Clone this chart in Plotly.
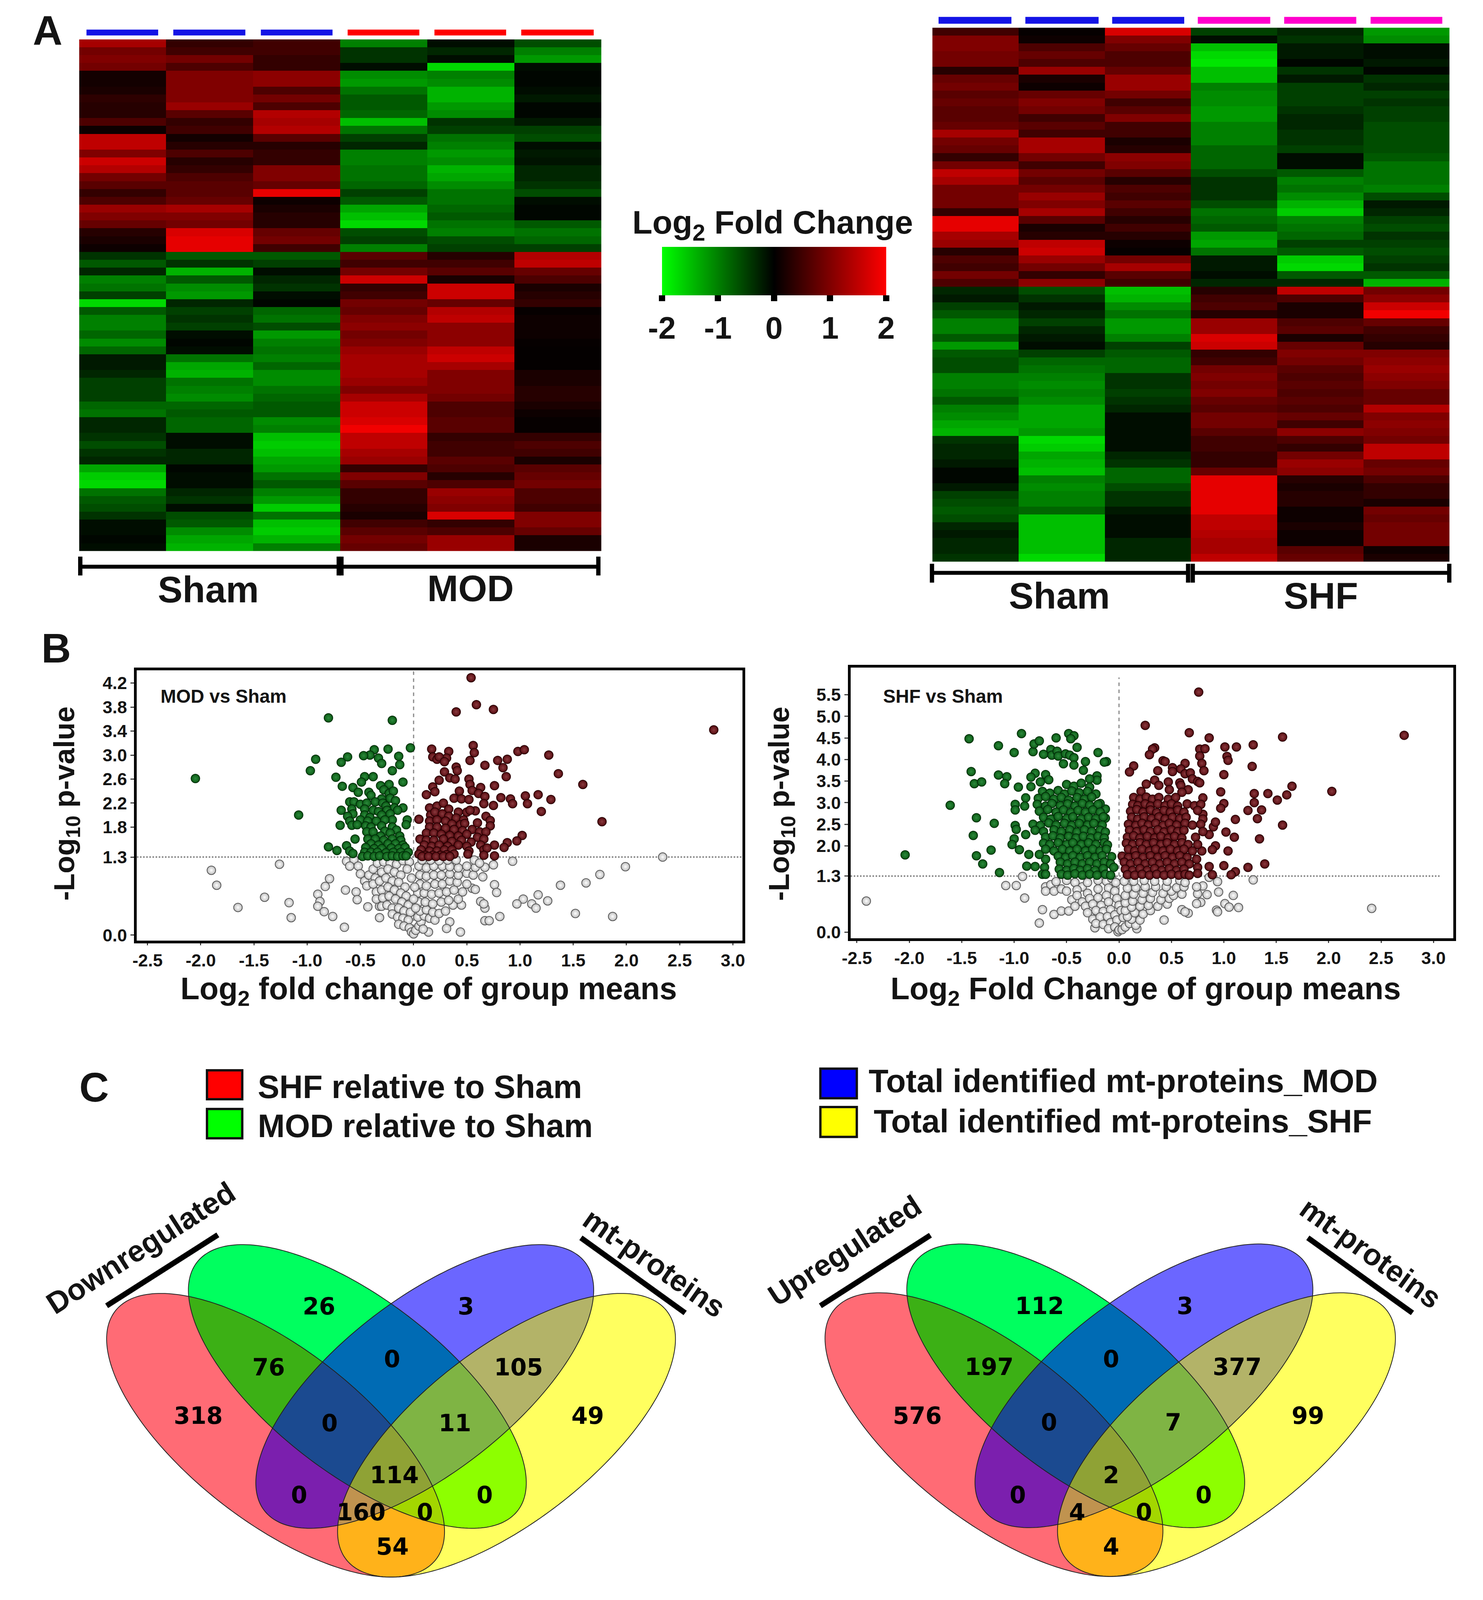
import numpy as np
import plotly.graph_objects as go

W, H = 3797, 4904          # geometry of the reference picture
VIEW_H = 4096              # the browser window is only this tall, so the page is fitted to it
VS = VIEW_H / H
FONT = "Liberation Sans"
INK = "#141414"

# ---------- Heatmap data (log2 fold change, rows top to bottom) ----------
mod_sham1 = [1.3,.9,1.0,.9,.15,.15,.2,.35,.3,.3,.6,.1,1.5,1.5,1.0,1.6,1.4,.9,.7,.4,.6,1.2,1.0,.8,.3,.2,.1,-.4,-.7,-.3,-1.0,-.9,-.5,-1.7,-.7,-1.0,-1.0,-.8,-1.1,-.8,-.2,-.2,-.3,-.5,-.5,-.5,-.8,-.9,-.3,-.3,-.4,-.6,-.4,-.3,-1.3,-1.6,-1.7,-.9,-.7,-.6,-.4,-.1,-.1,-.05,-.1]
mod_sham2 = [.4,.5,.9,.6,1.0,1.0,1.0,1.0,1.2,.7,.4,.5,.15,.3,.6,.3,.4,.6,.7,.7,.8,1.3,1.0,.9,1.7,1.8,1.8,-.7,-.4,-1.4,-.7,-1.1,-1.2,-.3,-.5,-.4,-.5,-.1,-.05,-.1,-.9,-1.3,-1.4,-.9,-1.0,-1.1,-.8,-.7,-.8,-.8,-.1,-.1,-.3,-.3,-.05,-.1,-.1,-.3,-.4,-.1,-.6,-.7,-1.1,-1.3,-1.4]
mod_sham3 = [.5,.5,.4,.4,1.1,1.1,.6,.9,.6,1.4,1.3,1.4,.7,.3,.4,.4,1.0,1.0,.8,1.8,.1,.2,.3,.3,.8,.9,.5,-.7,-.5,-.1,-.3,-.4,-.1,-.05,-.8,-.9,-.6,-1.2,-1.0,-.9,-1.0,-.8,-1.1,-1.1,-.9,-.8,-.7,-.7,-1.1,-1.0,-1.5,-1.6,-1.5,-1.3,-1.2,-.9,-.7,-1.0,-1.2,-1.6,-.9,-1.5,-1.6,-1.4,-1.0]
mod_mod1 = [-1.0,-.4,-.4,-.1,-1.1,-1.2,-.9,-.7,-.7,-.8,-1.5,-.9,-.5,-.3,-1.0,-1.0,-.9,-.9,-.8,-.5,-.7,-1.3,-1.5,-1.7,-.6,-.5,-1.0,.7,.5,.9,1.6,.4,.5,.9,.8,1.0,1.1,.9,1.0,1.2,1.3,1.3,1.3,1.2,1.0,1.3,1.6,1.6,1.7,1.9,1.5,1.5,1.3,1.2,.4,1.0,.7,.4,.4,.3,.2,.5,.7,.9,.8]
mod_mod2 = [-.1,-.3,-.1,-1.7,-1.0,-1.1,-1.4,-1.4,-1.2,-1.1,-.4,-.5,-.9,-1.0,-1.2,-1.1,-1.4,-1.3,-1.1,-.9,-.9,-.8,-.7,-.9,-1.0,-.6,-.5,.3,.5,.7,.2,1.6,1.6,.8,1.4,1.5,1.1,1.1,1.1,1.5,1.6,1.3,1.0,1.0,1.0,.9,.6,.6,.7,.7,.4,.5,.5,.7,.6,.3,.6,1.2,1.1,1.0,1.7,.4,.6,1.2,1.2]
mod_mod3 = [-.6,-1.0,-1.2,-.1,-.05,-.05,-.1,-.2,-.05,-.05,-.2,-.5,-.6,-.1,-.2,-.15,-.3,-.3,-.4,-.6,-.1,-.05,-.05,-.7,-.9,-.8,-.5,1.4,1.5,.8,.6,.2,.3,.4,.05,.1,.1,.1,.05,.03,.03,.03,.2,.2,.3,.3,.2,.1,.05,.05,.4,.6,.5,.2,.7,.8,.9,.6,.6,.5,1.0,1.0,.8,.2,.2]

shf_sham1 = [.5,1.0,1.0,.9,.9,.3,.8,.9,.7,.8,.7,.7,.8,1.3,.9,.8,.4,.9,1.5,1.3,.9,.9,.9,.4,1.8,1.8,1.3,1.2,.3,.6,.5,.9,.6,-.3,-.2,-.5,-.7,-1.0,-1.0,-.7,-1.2,-.7,-.6,-.6,-1.0,-1.0,-.9,-.7,-1.0,-1.1,-1.3,-1.4,-.4,-.3,-.3,-.2,-.05,-.05,-.2,-.5,-.6,-.7,-.6,-.3,-.2,-.3,-.3,-.4]
shf_sham2 = [.05,.1,.6,.8,.6,1.2,.2,.1,.8,1.0,.9,.5,.7,.5,1.3,1.3,.9,.5,.9,.7,.9,1.2,1.0,1.3,.7,.2,.3,1.5,1.6,1.2,.9,.4,1.1,-.6,-.4,-.2,-.3,-.5,-.3,-.2,-.1,-.5,-.8,-.9,-1.0,-1.1,-1.0,-1.1,-1.3,-1.3,-1.3,-1.2,-1.7,-1.6,-1.3,-1.4,-1.5,-1.0,-1.1,-1.0,-1.0,-.8,-1.5,-1.5,-1.5,-1.5,-1.5,-1.7]
shf_sham3 = [1.7,1.0,.8,.6,.6,.8,1.2,1.2,.9,.5,.7,1.0,.5,.5,.2,.3,1.1,1.0,.7,.3,.6,.5,.7,.5,.3,.5,.3,.1,.05,.9,1.3,.7,.5,-1.5,-1.4,-1.1,-.9,-1.2,-1.2,-1.0,-.5,-.7,-.8,-.8,-.4,-.4,-.5,-.4,-.3,-.1,-.1,-.1,-.1,-.1,-.3,-.4,-.8,-.8,-.6,-.4,-.4,-.2,-.1,-.1,-.1,-.3,-.3,-.3]
shf_shf1 = [-.5,-.1,-1.5,-1.7,-1.8,-1.5,-1.5,-1.0,-1.1,-1.1,-1.2,-1.2,-1.0,-1.0,-1.0,-.8,-.8,-.8,-.6,-.4,-.4,-.4,-.6,-.9,-.8,-.7,-1.2,-1.3,-.9,-.2,-.2,-.1,-.3,.3,.5,.6,.3,1.2,1.2,1.7,1.6,.4,.5,.9,1.0,.9,1.0,.8,.7,.9,.9,.7,.5,.5,.4,.4,.8,1.8,1.8,1.8,1.8,1.8,1.5,1.5,1.4,1.3,1.3,1.5]
shf_shf2 = [-.3,-.4,-.2,-.2,-.05,-.4,-.2,-.5,-.5,-.5,-.4,-.3,-.3,-.4,-.4,-.5,-.1,-.1,-.7,-1.0,-.9,-1.1,-1.4,-1.6,-1.0,-.9,-.8,-.5,-.7,-1.6,-1.7,-.7,-.3,1.5,.6,.2,.2,.6,.7,.2,.8,1.0,.9,.7,.6,.7,.6,.7,.6,.8,.5,1.1,.6,.4,.9,1.2,1.1,.3,.2,.3,.3,.1,.1,.2,.1,.1,.7,.8]
shf_shf3 = [-1.2,-1.1,-.1,-.1,-.2,-.05,-.4,-.3,-.5,-.4,-.5,-.5,-.6,-.6,-.6,-.6,-.7,-.9,-.9,-.9,-1.0,-.6,-.2,-.3,-.5,-.6,-.4,-.5,-.6,-.5,-.4,-.7,-1.4,.9,1.1,1.6,1.9,.8,.5,.4,.3,1.0,1.1,1.2,1.1,1.0,.8,.8,1.4,1.0,1.1,1.0,.9,1.5,1.5,.8,.9,.6,.4,.4,.2,.9,.8,.9,.9,.9,.1,.2]

colorbar_ticks = [-2, -1, 0, 1, 2]

# ---------- Volcano data: (log2 fold change, -log10 p) ----------
mod_down = [(-2.05,2.61),(-1.08,2.0),(-.80,3.62),(-.20,3.58),(-.03,3.12),(-.24,3.1),(-.37,3.09),(-.41,3.0),(-.47,2.99),(-.33,2.95),(-.62,2.97),(-.14,2.98),(-.92,2.93),(-.68,2.88),(-.30,2.86),(-.13,2.84),(-.97,2.74),(-.20,2.74),(-.73,2.63),(-.46,2.64),(-.38,2.64),(-.49,2.55),(-.10,2.55),(-.67,2.48),(-.57,2.46),(-.31,2.49),(-.23,2.51),
(-.52,2.38),(-.42,2.38),(-.40,2.33),(-.28,2.42),(-.23,2.36),(-.19,2.4),(-.22,2.28),(-.30,2.27),(-.17,2.24),(-.60,2.22),(-.56,2.22),(-.50,2.18),(-.44,2.2),(-.36,2.22),(-.29,2.2),(-.26,2.15),(-.18,2.12),(-.10,2.12),(-.58,2.1),(-.68,2.08),(-.46,2.1),(-.38,2.08),(-.33,2.06),(-.25,2.08),(-.15,2.08),(-.57,2.02),(-.62,1.98),(-.46,2.0),(-.41,1.96),(-.30,2.0),(-.22,2.02),(-.20,1.92),(-.27,1.92),(-.6,1.9),(-.5,1.92),(-.43,1.9),(-.35,1.9),(-.06,1.92),(-.07,1.84),(-.58,1.83),(-.53,1.84),(-.69,1.83),(-.45,1.82),(-.40,1.8),(-.3,1.82),(-.2,1.8),(-.16,1.75),(-.44,1.72),(-.38,1.72),(-.27,1.73),(-.22,1.7),(-.31,1.65),(-.13,1.65),(-.55,1.6),(-.43,1.6),(-.36,1.6),(-.28,1.58),(-.2,1.6),(-.12,1.58),(-.40,1.52),(-.33,1.5),(-.24,1.52),(-.17,1.52),(-.1,1.5),(-.8,1.47),(-.63,1.49),(-.72,1.41),(-.6,1.4),(-.57,1.36),(-.45,1.46),(-.37,1.44),(-.3,1.44),(-.21,1.45),(-.14,1.44),(-.08,1.46),(-.46,1.38),(-.4,1.38),(-.34,1.38),(-.26,1.37),(-.19,1.38),(-.12,1.38),(-.05,1.38),(-.48,1.31),(-.43,1.32),(-.37,1.31),(-.32,1.32),(-.25,1.31),(-.2,1.32),(-.15,1.31),(-.1,1.32),(-.07,1.32)]
mod_up = [(.54,4.29),(.59,3.84),(.40,3.72),(.75,3.76),(2.82,3.42),(.56,3.16),(.17,3.1),(.57,3.04),(.33,3.06),(.98,3.06),(1.04,3.09),(1.27,3.0),(.18,2.97),(.22,2.93),(.31,2.95),(.24,2.97),(.29,2.89),(.53,2.91),(.67,2.83),(.79,2.91),(.88,2.93),(.84,2.79),(1.36,2.69),(.87,2.64),(.40,2.8),(.41,2.74),(.29,2.72),(.34,2.62),(.24,2.58),(.39,2.6),(.52,2.6),(.53,2.51),(1.59,2.51),(.76,2.49),(.63,2.46),(.18,2.47),(.55,2.41),(.43,2.4),(.2,2.39),(.12,2.34),(.61,2.36),(.67,2.31),(1.05,2.32),(1.17,2.34),(.82,2.29),(.91,2.27),(1.29,2.26),(.38,2.28),(.45,2.27),(.52,2.26),(.93,2.19),(1.07,2.19),(.75,2.16),(1.2,2.06),(1.77,1.89),(.05,1.93),(.66,2.19),
(.15,2.12),(.22,2.15),(.28,2.2),(.33,2.1),(.42,2.05),(.5,2.05),(.58,2.07),(.53,2.08),(.68,1.98),(.72,1.91),(.16,2.0),(.2,2.05),(.27,2.02),(.33,1.98),(.40,1.95),(.47,1.92),(.15,1.9),(.22,1.92),(.3,1.9),(.36,1.85),(.44,1.84),(.48,1.86),(.6,1.87),(.72,1.82),(.15,1.8),(.22,1.8),(.3,1.78),(.38,1.76),(.46,1.74),(.55,1.76),(.62,1.72),(.68,1.72),(.12,1.7),(.19,1.7),(.26,1.68),(.34,1.66),(.42,1.65),(.5,1.68),(.6,1.63),(.66,1.6),(1.02,1.66),(.06,1.6),(.12,1.58),(.19,1.58),(.28,1.6),(.36,1.56),(.45,1.58),(.54,1.55),(.63,1.5),(.97,1.57),(.88,1.54),(.10,1.5),(.17,1.48),(.24,1.5),(.32,1.48),(.42,1.5),(.5,1.48),(.76,1.5),(.85,1.46),(.07,1.42),(.15,1.4),(.22,1.4),(.29,1.42),(.36,1.42),(.52,1.4),(.66,1.42),(.69,1.45),(.05,1.35),(.11,1.33),(.18,1.33),(.25,1.33),(.31,1.34),(.38,1.35),(.51,1.35),(.66,1.33),(.76,1.32),(.08,1.31),(.14,1.31),(.21,1.31),(.28,1.31),(.34,1.31)]
mod_ns = [(2.34,1.30),(1.99,1.14),(1.75,1.01),(1.62,.87),(1.38,.83),(1.52,.36),(1.87,.31),(1.17,.67),(1.26,.57),(1.03,.6),(.97,.52),(1.11,.52),(1.15,.45),(.81,.31),(.67,.24),(.71,.24),(.93,1.23),(.75,1.17),(.67,1.13),(.76,.84),(.78,.71),(.63,.56),(.67,.45),(.66,.52),(.34,.22),(.31,.11),(.44,.05),(.14,.05),
(-1.26,1.18),(-1.9,1.08),(-1.85,.83),(-1.4,.63),(-1.65,.46),(-1.17,.54),(-1.15,.29),(-.9,.68),(-.88,.56),(-.9,.48),(-.84,.39),(-.76,.31),(-.65,.13),(-.83,.81),(-.79,.94),(-.64,.75),(-.54,.72),(-.53,.59),(-.43,.47),(-.32,.48),(-.32,.29),(-.63,1.23),(-.56,1.26),(-.6,1.15),(-.52,1.15),(-.5,1.02),
(-.46,.9),(-.42,1.0),(-.38,1.1),(-.34,1.2),(-.28,1.22),(-.22,1.2),(-.16,1.18),(-.36,.95),(-.3,1.05),(-.24,1.1),(-.18,1.05),(-.12,1.0),(-.44,.82),(-.38,.85),(-.32,.9),(-.26,.95),(-.2,.9),(-.14,.88),(-.08,.8),(-.35,.72),(-.3,.75),(-.24,.8),(-.18,.75),(-.12,.7),(-.07,.65),(-.35,.6),(-.29,.62),(-.23,.65),(-.17,.6),(-.11,.55),(-.05,.5),(-.3,.48),(-.25,.5),(-.2,.45),(-.14,.45),(-.09,.4),(-.03,.38),(-.2,.35),(-.15,.3),(-.1,.28),(-.05,.25),(-.14,.18),(-.09,.15),(-.04,.12),(-.02,.05),(0,.02),(.02,.08),(.05,.15),(.07,.22),(.09,.1),(.04,.3),(.1,.32),(.15,.28),(.2,.25),(.06,.4),(.12,.42),(.18,.38),(.24,.36),(.3,.4),(.37,.5),(.45,.5),(.05,.55),(.11,.55),(.18,.52),(.26,.55),(.33,.58),(.42,.6),(.04,.7),(.1,.7),(.17,.68),(.24,.7),(.31,.72),(.38,.75),(.46,.72),(.55,.78),(.58,.76),(.06,.85),(.12,.82),(.2,.85),(.27,.85),(.34,.9),(.41,.88),(.5,.85),(.06,1.0),(.12,.98),(.19,1.0),(.26,1.0),(.34,1.02),(.42,1.0),(.5,1.03),(.56,1.0),(.65,.97),(.05,1.15),(.12,1.12),(.19,1.15),(.27,1.15),(.34,1.14),(.42,1.12),(.5,1.15),(.58,1.13),(.08,1.25),(.16,1.25),(.24,1.24),(.32,1.25),(.4,1.25),(.57,1.25),(.62,1.2),(-.1,1.24),(-.04,1.22),(-.06,1.1),(-.02,.95),(.01,.8),(.0,.6),(.02,.45)]

shf_down = [(-2.04,1.79),(-1.61,2.94),(-1.43,4.48),(-1.15,4.32),(-1.41,3.72),(-1.38,3.44),(-1.31,3.48),(-1.15,3.64),(-1.07,3.6),(-1.09,3.44),(-1.0,4.16),(-.93,4.6),(-.82,4.18),(-.81,4.36),(-.76,4.43),(-.6,4.5),(-.48,4.6),(-.43,4.55),(-.46,4.48),(-.4,4.28),(-.72,4.12),(-.65,4.23),(-.64,4.1),(-.59,4.19),(-.58,4.08),(-.2,4.16),(-.12,3.95),(-.14,3.94),(-.32,3.95),(-.51,4.13),(-.47,4.1),(-.43,4.04),(-.53,3.9),(-.43,3.87),(-.34,3.75),(-.8,3.68),(-.84,3.59),(-.7,3.65),(-.67,3.53),(-.96,3.36),(-.75,3.48),(-.84,3.37),(-.21,3.62),(-.21,3.52),(-.28,3.55),(-1.36,2.65),(-1.19,2.52),(-1.39,2.24),(-1.36,1.77),(-1.22,1.9),(-1.3,1.58),(-1.14,1.38),(-.89,3.11),(-.99,2.96),(-.99,2.83),(-.9,2.92),(-.99,2.47),(-.98,2.38),(-.89,2.26),(-1.0,2.16),(-1.02,2.03),(-.95,1.91),(-.86,1.8),(-.88,1.53),(-.8,1.52),(-.71,1.5),(-.73,1.34),(-.7,1.34),(-.7,1.69),(-.76,1.8),(-.13,2.85),(-.18,2.98),(-.13,2.64),
(-.5,3.42),(-.43,3.38),(-.36,3.45),(-.28,3.36),(-.73,3.26),(-.66,3.22),(-.58,3.28),(-.52,3.2),(-.45,3.27),(-.38,3.23),(-.3,3.26),(-.22,3.2),(-.77,3.1),(-.7,3.14),(-.62,3.08),(-.55,3.12),(-.48,3.06),(-.4,3.12),(-.33,3.08),(-.26,3.13),(-.78,2.96),(-.7,2.92),(-.64,2.98),(-.56,2.93),(-.49,2.97),(-.42,2.92),(-.35,2.98),(-.28,2.94),(-.2,2.96),(-.76,2.8),(-.68,2.84),(-.6,2.78),(-.53,2.83),(-.46,2.77),(-.39,2.82),(-.32,2.78),(-.25,2.83),(-.18,2.78),(-.72,2.66),(-.65,2.62),(-.58,2.68),(-.5,2.63),(-.44,2.67),(-.36,2.62),(-.29,2.66),(-.22,2.63),(-.15,2.67),(-.82,2.5),(-.75,2.47),(-.67,2.53),(-.6,2.48),(-.52,2.52),(-.45,2.47),(-.38,2.52),(-.3,2.48),(-.24,2.52),(-.16,2.48),(-.8,2.36),(-.72,2.33),(-.62,2.37),(-.55,2.33),(-.47,2.37),(-.4,2.32),(-.33,2.37),(-.26,2.33),(-.18,2.36),(-.13,2.32),(-.7,2.2),(-.63,2.23),(-.56,2.18),(-.48,2.22),(-.41,2.18),(-.34,2.22),(-.27,2.18),(-.2,2.22),(-.14,2.18),(-.72,2.06),(-.66,2.03),(-.58,2.07),(-.5,2.03),(-.44,2.07),(-.36,2.03),(-.29,2.07),(-.22,2.03),(-.14,2.07),(-.11,2.02),(-.7,1.92),(-.62,1.88),(-.54,1.92),(-.47,1.88),(-.4,1.92),(-.32,1.88),(-.25,1.92),(-.18,1.88),(-.12,1.92),(-.58,1.76),(-.51,1.73),(-.44,1.77),(-.37,1.73),(-.3,1.77),(-.23,1.73),(-.16,1.77),(-.07,1.75),(-.56,1.62),(-.49,1.58),(-.42,1.62),(-.35,1.58),(-.28,1.62),(-.21,1.58),(-.14,1.62),(-.08,1.58),(-.57,1.46),(-.5,1.43),(-.43,1.47),(-.37,1.43),(-.3,1.47),(-.23,1.43),(-.15,1.47),(-.05,1.5),(-.55,1.34),(-.49,1.32),(-.42,1.35),(-.35,1.32),(-.28,1.34),(-.21,1.32),(-.13,1.34),(-.08,1.32)]
shf_up = [(.76,5.56),(.25,4.79),(.67,4.62),(.86,4.5),(1.56,4.52),(2.72,4.56),(1.28,4.34),(1.01,4.29),(1.12,4.29),(.34,4.27),(.32,4.24),(.77,4.24),(.82,4.25),(.29,4.11),(.77,4.08),(1.03,4.07),(1.04,3.98),(.42,3.97),(.44,3.95),(.63,3.91),(.79,3.91),(1.27,3.84),(.14,3.85),(.1,3.71),(.37,3.74),(.51,3.81),(.51,3.72),(.59,3.78),(.63,3.67),(.68,3.69),(.81,3.74),(1.0,3.65),(.7,3.55),(.75,3.49),(.77,3.46),(.26,3.43),(.34,3.52),(.38,3.4),(.47,3.48),(.58,3.46),(.59,3.4),(.66,3.3),(.6,3.24),(1.65,3.38),(2.03,3.26),(.97,3.25),(1.29,3.21),(1.42,3.21),(1.6,3.18),(1.51,3.06),(.21,3.26),(.48,3.3),(.8,3.11),(1.29,3.0),(1.0,2.98),(.97,2.87),(1.23,2.82),(1.36,2.83),(1.32,2.63),(1.11,2.61),(1.56,2.48),(1.02,2.32),(1.1,2.2),(1.34,2.16),(1.04,1.88),(1.39,1.58),(1.0,1.54),(.86,1.52),(1.23,1.5),(1.11,1.4),(1.07,1.33),(.75,1.5),(.75,1.36),(.89,1.33),(.92,2.0),(.89,1.91),(.79,1.88),(.74,1.69),(.86,2.26),(.9,2.44),(.92,2.55),(.8,2.73),(.73,2.2),(.75,2.03),
(.14,3.12),(.2,3.08),(.26,3.13),(.32,3.08),(.38,3.12),(.47,3.08),(.54,3.12),(.13,2.96),(.18,2.93),(.25,2.97),(.3,2.92),(.37,2.97),(.44,2.93),(.5,2.97),(.56,2.92),(.65,2.97),(.72,2.93),(.78,2.96),(.11,2.8),(.17,2.84),(.23,2.78),(.3,2.83),(.36,2.77),(.43,2.82),(.49,2.78),(.56,2.83),(.62,2.78),(.75,2.82),(.12,2.66),(.18,2.62),(.24,2.67),(.31,2.63),(.38,2.67),(.44,2.62),(.51,2.66),(.58,2.63),(.64,2.66),(.8,2.62),(.09,2.5),(.16,2.47),(.22,2.52),(.28,2.48),(.35,2.52),(.42,2.47),(.48,2.52),(.55,2.48),(.63,2.52),(.7,2.48),(.78,2.5),(.1,2.36),(.17,2.33),(.24,2.37),(.3,2.33),(.37,2.37),(.43,2.32),(.5,2.37),(.56,2.33),(.62,2.36),(.8,2.33),(.08,2.2),(.14,2.23),(.2,2.18),(.27,2.22),(.34,2.18),(.4,2.22),(.47,2.18),(.53,2.22),(.6,2.18),(.07,2.06),(.13,2.03),(.2,2.07),(.26,2.03),(.33,2.07),(.4,2.03),(.46,2.07),(.53,2.03),(.6,2.07),(.66,2.03),(.09,1.92),(.15,1.88),(.22,1.92),(.29,1.88),(.35,1.92),(.42,1.88),(.49,1.92),(.56,1.88),(.62,1.92),(.7,1.88),(.03,1.76),(.09,1.73),(.16,1.77),(.23,1.73),(.3,1.77),(.37,1.73),(.44,1.77),(.51,1.73),(.58,1.77),(.65,1.73),(.05,1.62),(.11,1.58),(.18,1.62),(.25,1.58),(.32,1.62),(.39,1.58),(.46,1.62),(.53,1.58),(.6,1.62),(.67,1.58),(.06,1.46),(.13,1.43),(.2,1.47),(.27,1.43),(.34,1.47),(.41,1.43),(.48,1.47),(.55,1.43),(.62,1.46),(.08,1.33),(.15,1.32),(.22,1.34),(.29,1.32),(.36,1.34),(.43,1.32),(.5,1.34),(.57,1.32),(.63,1.34),(.67,1.32)]
shf_ns = [(-2.41,.72),(2.41,.55),(1.28,1.21),(-1.08,1.08),(-.98,1.08),(-.92,1.29),(-.9,.79),(-.73,.52),(-.62,.41),(-.55,.49),(-.48,.49),(-.76,.21),(.43,.28),(.94,1.17),(.86,1.27),(.95,.93),(1.09,.85),(1.01,.66),(1.05,.58),(1.14,.57),(.93,.51),(.94,.47),(.78,.69),(.74,.66),(.6,.52),(.66,.44),(.63,.47),(.75,.89),(.84,.87),(.8,1.07),(.74,1.05),
(-.7,1.05),(-.65,1.1),(-.62,.95),(-.55,1.0),(-.7,.95),(-.6,1.17),(-.5,1.2),(-.42,1.15),(-.35,1.05),(-.3,1.15),(-.2,1.2),(-.12,1.18),(-.07,1.25),(-.5,.95),(-.4,.98),(-.3,.9),(-.2,1.0),(-.1,1.02),(-.03,1.15),(-.45,.75),(-.4,.85),(-.35,.7),(-.28,.78),(-.2,.8),(-.12,.85),(-.04,.95),(-.42,.6),(-.32,.6),(-.25,.65),(-.17,.62),(-.1,.7),(-.02,.78),(-.3,.45),(-.22,.5),(-.15,.48),(-.08,.52),(0,.62),(-.25,.3),(-.18,.35),(-.11,.36),(-.04,.4),(.02,.5),(-.23,.1),(-.22,.2),(-.15,.18),(-.08,.22),(-.02,.28),(.04,.34),(-.1,.08),(-.04,.12),(-.01,.01),(.0,.05),(.03,.06),(.06,.12),(.1,.2),(.17,.08),(.16,.16),(.12,.3),(.2,.28),(.08,.36),(.15,.45),(.23,.42),(.3,.5),(.06,.5),(.12,.58),(.2,.6),(.28,.62),(.37,.6),(.46,.65),(.06,.68),(.13,.72),(.22,.75),(.3,.78),(.4,.75),(.48,.78),(.52,.85),(.06,.85),(.14,.88),(.23,.9),(.32,.92),(.42,.9),(.5,.95),(.6,.88),(.08,1.02),(.16,1.03),(.25,1.05),(.35,1.05),(.45,1.05),(.55,1.03),(.62,1.05),(.05,1.18),(.14,1.18),(.24,1.2),(.34,1.18),(.46,1.18),(.58,1.2),(.63,1.15)]

x_ticks = [-2.5,-2.0,-1.5,-1.0,-0.5,0.0,0.5,1.0,1.5,2.0,2.5,3.0]
mod_y_ticks = [0.0,1.3,1.8,2.2,2.6,3.0,3.4,3.8,4.2]
shf_y_ticks = [0.0,1.3,2.0,2.5,3.0,3.5,4.0,4.5,5.0,5.5]

# ---------- Venn counts ----------
venn_down = {"R":318,"G":26,"B":3,"RG":76,"GB":0,"BY":105,"Y":49,"RGB":0,"GBY":11,"RB":0,"RGBY":114,"GY":0,"RBY":160,"RGY":0,"RY":54}
venn_up = {"R":576,"G":112,"B":3,"RG":197,"GB":0,"BY":377,"Y":99,"RGB":0,"GBY":7,"RB":0,"RGBY":2,"GY":0,"RBY":4,"RGY":0,"RY":4}

# ---------- helpers ----------
def px(x): return x / W
def py(y): return 1 - y / H
def dom_x(a, b): return [a / W, b / W]
def dom_y(top, bottom): return [1 - bottom / H, 1 - top / H]
def slant(deg):
    """Angle of a diagonal once the page has been fitted to the shorter window."""
    return float(np.degrees(np.arctan(np.tan(np.radians(deg)) * VS)))

shapes, annos = [], []

def text(x, y, s, size, angle=0, anchor="center", family=FONT, color=INK):
    annos.append(dict(x=px(x), y=py(y), xref="paper", yref="paper", text=s, showarrow=False,
                      xanchor=anchor, yanchor="middle", textangle=angle,
                      font=dict(family=family, size=size, color=color)))

def rect(x0, y0, x1, y1, fill, line=None, lw=0):
    shapes.append(dict(type="rect", xref="paper", yref="paper", x0=px(x0), x1=px(x1), y0=py(y0), y1=py(y1),
                       fillcolor=fill, line=dict(color=line or fill, width=lw)))

def seg(x0, y0, x1, y1, lw=12, color="#000"):
    shapes.append(dict(type="line", xref="paper", yref="paper", x0=px(x0), x1=px(x1), y0=py(y0), y1=py(y1),
                       line=dict(color=color, width=lw)))

fig = go.Figure()
scale = [[0, "#00ff00"], [0.5, "#000000"], [1, "#ff0000"]]

def heat(cols, names, idx, xd, yd, cbar=False):
    z = [list(r) for r in zip(*cols)]
    t = go.Heatmap(z=z, x=names, zmin=-2, zmax=2, colorscale=scale, xaxis=f"x{idx}", yaxis=f"y{idx}",
                   showscale=cbar, xgap=0, ygap=0)
    if cbar:
        t.colorbar = dict(orientation="h", x=1685 / W, xanchor="left", y=py(759), yanchor="top", yref="paper",
                          lenmode="pixels", len=574, thicknessmode="pixels", thickness=124, xpad=0, ypad=0,
                          outlinewidth=0, tickmode="array", tickvals=colorbar_ticks,
                          ticktext=[str(v) for v in colorbar_ticks], ticks="outside", ticklen=15, tickwidth=16,
                          tickcolor="#000", tickfont=dict(family=FONT, size=80, color=INK, weight="bold"))
    fig.add_trace(t)
    fig.update_layout({f"xaxis{idx}": dict(domain=dom_x(*xd), visible=False, anchor=f"y{idx}"),
                       f"yaxis{idx}": dict(domain=dom_y(*yd), visible=False, autorange="reversed", anchor=f"x{idx}")})

heat([mod_sham1, mod_sham2, mod_sham3, mod_mod1, mod_mod2, mod_mod3],
     ["Sham 1","Sham 2","Sham 3","MOD 1","MOD 2","MOD 3"], 2, (181, 1529), (121, 1694), cbar=True)
heat([shf_sham1, shf_sham2, shf_sham3, shf_shf1, shf_shf2, shf_shf3],
     ["Sham 1","Sham 2","Sham 3","SHF 1","SHF 2","SHF 3"], 3, (2383, 3718), (85, 1727))

# condition bars above the heatmaps
for a, b, c in [(200,385,"#1414e6"),(424,610,"#1414e6"),(650,835,"#1414e6"),(874,1059,"#ff0000"),(1098,1283,"#ff0000"),(1322,1509,"#ff0000")]:
    rect(a, 91, b, 109, c)
for a, b, c in [(2399,2587,"#1414e6"),(2623,2812,"#1414e6"),(2847,3033,"#1414e6"),(3068,3255,"#ff00cc"),(3291,3477,"#ff00cc"),(3514,3699,"#ff00cc")]:
    rect(a, 52, b, 73, c)

# brackets
for x0, x1, y, t0, t1 in [(184,851,1742,1711,1769),(858,1521,1742,1711,1769),(2382,3043,1761,1733,1791),(3055,3717,1761,1733,1791)]:
    seg(x0, y, x1, y, 10)
    seg(x0, t0, x0, t1, 11)
    seg(x1, t0, x1, t1, 11)

text(515, 1812, "<b>Sham</b>", 95)
text(1191, 1808, "<b>MOD</b>", 95)
text(2711, 1831, "<b>Sham</b>", 95)
text(3386, 1831, "<b>SHF</b>", 95)
text(1971, 690, "<b>Log<sub>2</sub> Fold Change</b>", 84)
text(100, 94, "<b>A</b>", 105)
text(122, 1993, "<b>B</b>", 105)
text(220, 3342, "<b>C</b>", 105)

# ---------- volcanoes ----------
def volcano(idx, xd, yd, xr, yr, yticks, groups, vtop, hright):
    for pts, col, edge, centre, name in groups:
        fig.add_trace(go.Scatter(x=[p[0] for p in pts], y=[p[1] for p in pts], mode="markers", name=name,
                                 xaxis=f"x{idx}", yaxis=f"y{idx}", showlegend=False,
                                 marker=dict(size=22, color=col, line=dict(color=edge, width=2),
                                             gradient=dict(type="radial", color=centre))))
    fig.update_layout({
        f"xaxis{idx}": dict(domain=dom_x(*xd), range=xr, anchor=f"y{idx}", tickmode="array", tickvals=x_ticks,
                            ticktext=[f"{v:.1f}" for v in x_ticks], ticks="outside", ticklen=5, tickwidth=3,
                            showline=True, mirror=True, linewidth=7, linecolor="#000", showgrid=False, zeroline=False,
                            tickfont=dict(family=FONT, size=45, color=INK, weight="bold"), tickangle=0),
        f"yaxis{idx}": dict(domain=dom_y(*yd), range=yr, anchor=f"x{idx}", tickmode="array", tickvals=yticks,
                            ticktext=[f"{v:.1f}" for v in yticks], ticks="outside", ticklen=9, tickwidth=3,
                            showline=True, mirror=True, linewidth=7, linecolor="#000", showgrid=False, zeroline=False,
                            tickfont=dict(family=FONT, size=45, color=INK, weight="bold"))})
    shapes.append(dict(type="line", xref=f"x{idx}", yref=f"y{idx}", x0=0, x1=0, y0=0, y1=vtop,
                       line=dict(color="#888", width=3, dash="dash"), layer="below"))
    shapes.append(dict(type="line", xref=f"x{idx}", yref=f"y{idx}", x0=xr[0], x1=hright, y0=1.3, y1=1.3,
                       line=dict(color="#888", width=4, dash="dot"), layer="below"))

NS = ("#bdbdbd", "#5a5a5a", "#ffffff")
DOWN = ("#0a5a14", "#02300a", "#2c8a3c")
UP = ("#560a10", "#2a0003", "#8a3a3e")
volcano(4, (330, 1893), (2060, 2891), [-2.6, 3.09], [-0.09, 4.416], mod_y_ticks,
        [(mod_ns, *NS, "not significant"), (mod_down, *DOWN, "down"), (mod_up, *UP, "up")], 4.41, 3.09)
volcano(5, (2172, 3727), (2052, 2884), [-2.56, 3.187], [-0.14, 6.13], shf_y_ticks,
        [(shf_ns, *NS, "not significant"), (shf_down, *DOWN, "down"), (shf_up, *UP, "up")], 5.9, 3.07)

text(389, 2140, "<b>MOD vs Sham</b>", 48, anchor="left")
text(2254, 2140, "<b>SHF vs Sham</b>", 48, anchor="left")
text(1083, 3046, "<b>Log<sub>2</sub> fold change of group means</b>", 80)
text(2934, 3046, "<b>Log<sub>2</sub> Fold Change of group means</b>", 80)
text(148, 2470, "<b>-Log<sub>10</sub> p-value</b>", 74, angle=-90)
text(1993, 2470, "<b>-Log<sub>10</sub> p-value</b>", 74, angle=-90)

# ---------- legend of panel C ----------
rect(511, 3290, 602, 3379, "#ff0000", "#111", 6)
rect(511, 3409, 602, 3499, "#00ff00", "#111", 6)
rect(2094, 3285, 2188, 3376, "#0000ff", "#111", 6)
rect(2094, 3403, 2188, 3495, "#ffff00", "#111", 6)
text(640, 3341, "<b>SHF relative to Sham</b>", 83, anchor="left")
text(640, 3461, "<b>MOD relative to Sham</b>", 83, anchor="left")
text(2217, 3323, "<b>Total identified mt-proteins_MOD</b>", 83, anchor="left")
text(2230, 3447, "<b>Total identified mt-proteins_SHF</b>", 83, anchor="left")

# ---------- Venn diagrams ----------
COLORS = {"R":"#ff6b75","G":"#00ff5f","B":"#6b66ff","Y":"#ffff5f","RG":"#3cb015","GB":"#006bb4","BY":"#b3b368",
          "RB":"#7b1fae","GY":"#8dff00","RY":"#ffb21a","RGB":"#1b4a90","GBY":"#7fb444","RGY":"#a3d600",
          "RBY":"#c0934f","RGBY":"#8fa235"}

def ellipse(cx, cy, a, b, deg, n=240):
    t = np.linspace(0, 2 * np.pi, n, endpoint=False)
    th = np.radians(deg)
    x = cx + a * np.cos(t) * np.cos(th) - b * np.sin(t) * np.sin(th)
    y = cy + a * np.cos(t) * np.sin(th) + b * np.sin(t) * np.cos(th)
    return list(zip(x, y))

def area(poly):
    return sum(poly[i][0] * poly[(i + 1) % len(poly)][1] - poly[(i + 1) % len(poly)][0] * poly[i][1] for i in range(len(poly))) / 2

def clip(subject, clipper):
    out = subject
    sign = 1 if area(clipper) > 0 else -1
    for i in range(len(clipper)):
        ax, ay = clipper[i]
        bx, by = clipper[(i + 1) % len(clipper)]
        inp, out = out, []
        side = lambda p: sign * ((bx - ax) * (p[1] - ay) - (by - ay) * (p[0] - ax))
        for j in range(len(inp)):
            p, q = inp[j], inp[(j + 1) % len(inp)]
            sp, sq = side(p), side(q)
            if sp >= 0:
                out.append(p)
            if sp * sq < 0:
                t = sp / (sp - sq)
                out.append((p[0] + t * (q[0] - p[0]), p[1] + t * (q[1] - p[1])))
        if not out:
            break
    return out

def path(poly):
    return "M " + " L ".join(f"{px(x):.5f},{py(y):.5f}" for x, y in poly) + " Z"

def venn(centres, counts, spots):
    polys = {k: ellipse(*centres[k], 565, 247, d) for k, d in zip("RGBY", (45, 45, -45, -45))}
    for key in ["R","G","B","Y","RG","RB","RY","GB","GY","BY","RGB","RGY","RBY","GBY","RGBY"]:
        poly = polys[key[0]]
        for k in key[1:]:
            poly = clip(poly, polys[k])
        shapes.append(dict(type="path", xref="paper", yref="paper", path=path(poly), fillcolor=COLORS[key],
                           line=dict(width=0), layer="below"))
    for k in "RGBY":
        shapes.append(dict(type="path", xref="paper", yref="paper", path=path(polys[k]), fillcolor="rgba(0,0,0,0)",
                           line=dict(color="#222", width=2), layer="below"))
    for key, (x, y) in spots.items():
        text(x, y, f"<b>{counts[key]}</b>", 60, family="DejaVu Sans", color="#000")

venn({"R":(688,4412),"G":(899,4262),"B":(1073,4262),"Y":(1284,4412)}, venn_down,
     {"R":(488,4352),"G":(800,4016),"B":(1179,4016),"RG":(670,4203),"GB":(989,4177),"BY":(1315,4203),"Y":(1494,4352),
      "RGB":(828,4374),"GBY":(1151,4374),"RB":(749,4595),"RGBY":(994,4534),"GY":(1228,4595),"RBY":(909,4648),
      "RGY":(1073,4648),"RY":(990,4754)})
venn({"R":(2542,4410),"G":(2753,4260),"B":(2929,4260),"Y":(3142,4410)}, venn_up,
     {"R":(2344,4352),"G":(2660,4014),"B":(3035,4014),"RG":(2529,4201),"GB":(2844,4177),"BY":(3170,4201),"Y":(3352,4352),
      "RGB":(2684,4372),"GBY":(3005,4372),"RB":(2604,4595),"RGBY":(2844,4534),"GY":(3083,4595),"RBY":(2757,4648),
      "RGY":(2929,4648),"RY":(2844,4754)})

seg(252, 4014, 539, 3796, 14)
seg(1476, 3805, 1745, 4036, 14)
seg(2094, 4014, 2378, 3797, 14)
seg(3352, 3805, 3622, 4036, 14)
text(340, 3835, "<b>Downregulated</b>", 77, angle=-slant(37.5))
text(1666, 3882, "<b>mt-proteins</b>", 77, angle=slant(40))
text(2157, 3844, "<b>Upregulated</b>", 77, angle=-slant(38))
text(3515, 3852, "<b>mt-proteins</b>", 77, angle=slant(40.8))

fig.update_layout(width=W, height=VIEW_H, autosize=False, margin=dict(l=0, r=0, t=0, b=0, pad=0),
                  paper_bgcolor="#ffffff", plot_bgcolor="rgba(0,0,0,0)", showlegend=False,
                  shapes=shapes, annotations=annos, font=dict(family=FONT, color=INK))

fit = """
document.body.style.margin='0';
document.documentElement.style.overflow='hidden';
var gd=document.querySelector('.plotly-graph-div');
Plotly.relayout(gd,{width:window.innerWidth,height:window.innerHeight});
"""
fig.write_html("out.html", post_script=fit, config={"displayModeBar": False})
